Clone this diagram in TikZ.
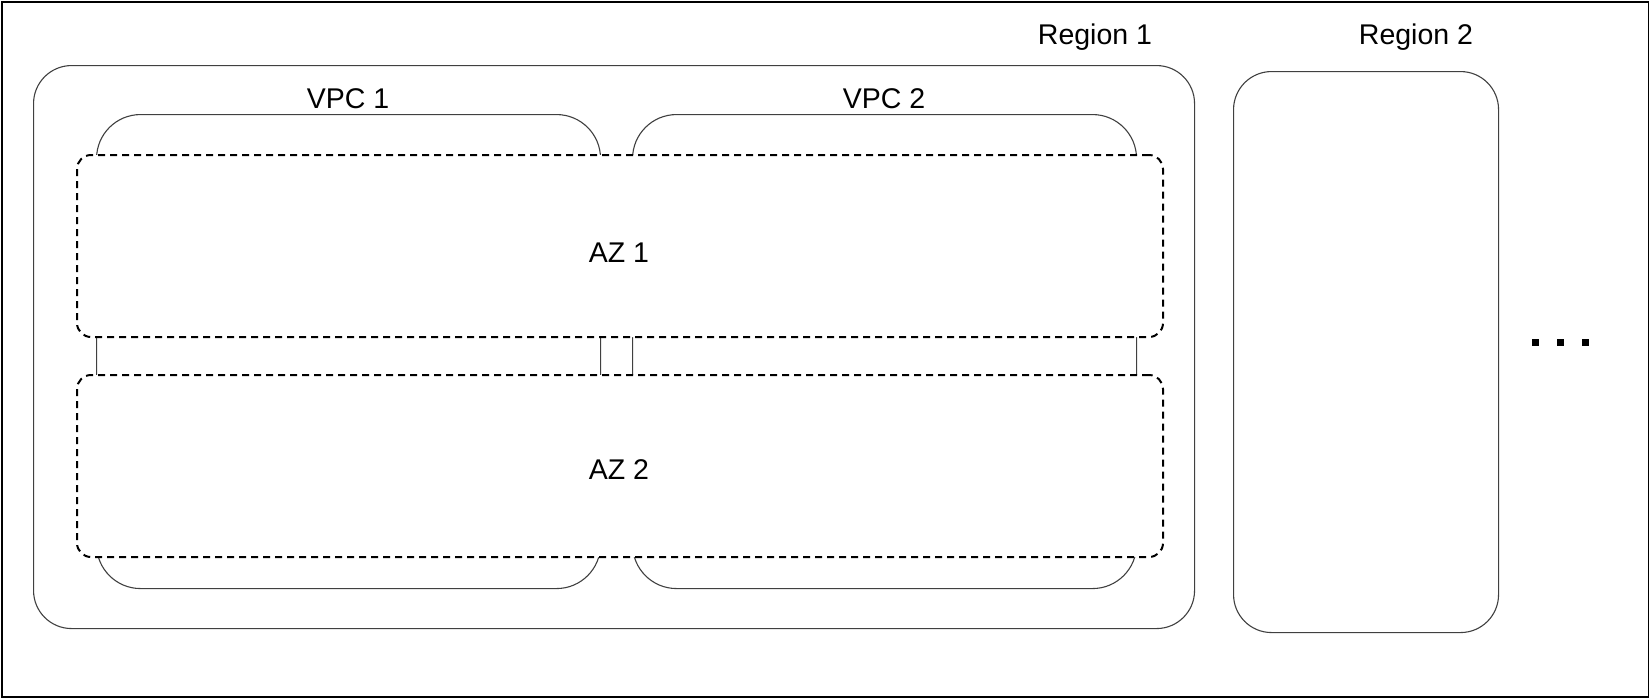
\documentclass[tikz,border=0pt]{standalone}
\usepackage{fontspec}
\setmainfont{Liberation Sans}
\begin{document}
\begin{tikzpicture}[x=1pt,y=-1pt,
  outerframe/.style={draw=black, line width=2pt, inner sep=0pt, anchor=north west},
  regionbox/.style={draw=black!75, line width=1.1pt, rounded corners=38pt, inner sep=0pt, anchor=north west},
  vpcbox/.style={draw=black!75, line width=1.1pt, rounded corners=44pt, inner sep=0pt, anchor=north west},
  azbox/.style={draw=black, fill=white, line width=2pt, dash pattern=on 7pt off 5pt, rounded corners=14pt, inner sep=0pt, anchor=north west},
  lbl/.style={font=\fontsize{28.5}{34}\selectfont, anchor=base, inner sep=0pt},
  dotbox/.style={fill=black, minimum size=7pt, inner sep=0pt}
]
\useasboundingbox (0,0) rectangle (1649,697);
\node[outerframe, minimum width=1647pt, minimum height=695pt] (frame) at (1,1) {};
\node[regionbox, minimum width=1161pt, minimum height=563pt] (r1) at (33,65) {};
\node[regionbox, minimum width=265pt, minimum height=561pt] (r2) at (1233,71) {};
\node[vpcbox, minimum width=504pt, minimum height=474pt] (v1) at (96,114) {};
\node[vpcbox, minimum width=504pt, minimum height=474pt] (v2) at (632,114) {};
\node[azbox, minimum width=1086pt, minimum height=182pt] (az1) at (76,154) {};
\node[azbox, minimum width=1086pt, minimum height=182pt] (az2) at (76,374) {};
\node[lbl] (r1l) at (1095,44) {Region 1};
\node[lbl] (r2l) at (1416,44) {Region 2};
\node[lbl] (v1l) at (348,108) {VPC 1};
\node[lbl] (v2l) at (884,108) {VPC 2};
\node[lbl] (az1l) at (619,262) {AZ 1};
\node[lbl] (az2l) at (619,479) {AZ 2};
\node[dotbox] (d1) at (1535,342) {};
\node[dotbox] (d2) at (1560,342) {};
\node[dotbox] (d3) at (1585,342) {};
\end{tikzpicture}
\end{document}
